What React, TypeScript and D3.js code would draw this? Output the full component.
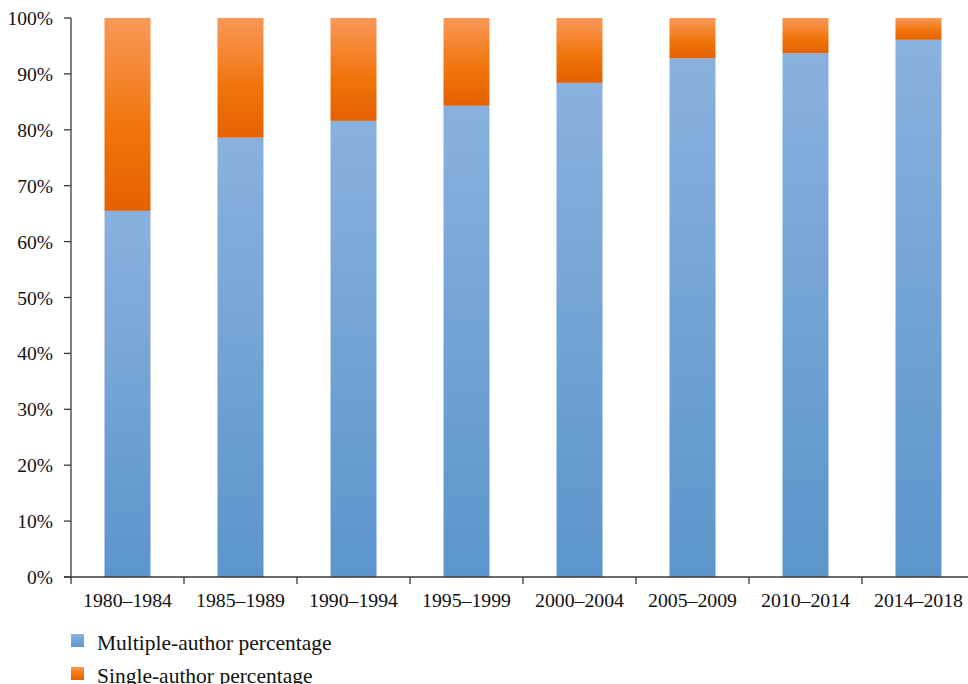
import React from "react";
import * as d3 from "d3";

const periods = ["1980–1984", "1985–1989", "1990–1994", "1995–1999", "2000–2004", "2005–2009", "2010–2014", "2014–2018"];
const multipleAuthor = [65.5, 78.6, 81.6, 84.3, 88.4, 92.8, 93.7, 96.1];
const singleAuthor = multipleAuthor.map((v) => 100 - v);
const yTicks = [0, 10, 20, 30, 40, 50, 60, 70, 80, 90, 100];
const seriesNames = ["Multiple-author percentage", "Single-author percentage"];

const W = 968;
const H = 684;
const margin = { left: 71, top: 18, bottom: 577, right: 975 };
const FONT = "'Liberation Serif', serif";
const AXIS = "#3a3a3a";

export default function App() {
  const x = d3.scaleBand<string>().domain(periods).range([margin.left, margin.right]).paddingInner(0).paddingOuter(0);
  const y = d3.scaleLinear().domain([0, 100]).range([margin.bottom, margin.top]);
  const bw = 46;
  const off = (x.bandwidth() - bw) / 2;

  const stacked = d3.stack<number>().keys(["m", "s"]).value((i, k) => (k === "m" ? multipleAuthor[i] : singleAuthor[i]))(
    d3.range(periods.length)
  );

  return (
    <svg width={W} height={H} style={{ position: "absolute", left: 0, top: 0 }}>
      <defs>
        <linearGradient id="gBlue" x1="0" y1="0" x2="0" y2="1">
          <stop offset="0" stopColor="#8ab1de" />
          <stop offset="1" stopColor="#5b95cb" />
        </linearGradient>
        <linearGradient id="gOrange" x1="0" y1="0" x2="0" y2="1">
          <stop offset="0" stopColor="#f99859" />
          <stop offset="0.6" stopColor="#f07308" />
          <stop offset="1" stopColor="#e46102" />
        </linearGradient>
      </defs>
      <rect width={W} height={H} fill="#fff" />
      {stacked.map((layer, li) =>
        layer.map((d, i) => (
          <rect
            key={`${li}-${i}`}
            x={(x(periods[i]) as number) + off}
            width={bw}
            y={y(d[1])}
            height={y(d[0]) - y(d[1])}
            fill={li === 0 ? "url(#gBlue)" : "url(#gOrange)"}
          />
        ))
      )}
      {/* y axis */}
      <line x1={margin.left} x2={margin.left} y1={margin.top} y2={margin.bottom + 7} stroke={AXIS} strokeWidth={1.3} />
      {yTicks.map((t) => (
        <g key={t}>
          <line x1={margin.left - 7} x2={margin.left} y1={y(t)} y2={y(t)} stroke={AXIS} strokeWidth={1.3} />
          <text x={53} y={y(t) + 7} textAnchor="end" fontFamily={FONT} fontSize={19.5} fill="#111">
            {t}%
          </text>
        </g>
      ))}
      {/* x axis */}
      <line x1={margin.left - 7} x2={margin.right} y1={margin.bottom} y2={margin.bottom} stroke={AXIS} strokeWidth={1.3} />
      {periods.map((p) => (
        <g key={p}>
          <line
            x1={(x(p) as number) + x.bandwidth()}
            x2={(x(p) as number) + x.bandwidth()}
            y1={margin.bottom}
            y2={margin.bottom + 7}
            stroke={AXIS}
            strokeWidth={1.3}
          />
          <text x={(x(p) as number) + x.bandwidth() / 2} y={607} textAnchor="middle" fontFamily={FONT} fontSize={19.8} fill="#111">
            {p}
          </text>
        </g>
      ))}
      {/* legend */}
      {seriesNames.map((n, i) => (
        <g key={n} transform={`translate(71, ${634 + i * 33})`}>
          <rect width={13} height={13} fill={i === 0 ? "url(#gBlue)" : "url(#gOrange)"} />
          <text x={26} y={16} fontFamily={FONT} fontSize={21.5} fill="#111">
            {n}
          </text>
        </g>
      ))}
    </svg>
  );
}
